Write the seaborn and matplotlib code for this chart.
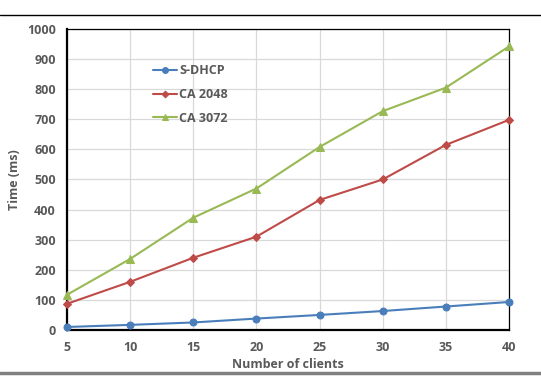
import numpy as np
import pandas as pd
import seaborn as sns
import matplotlib.pyplot as plt
from matplotlib.lines import Line2D

clients = [5, 10, 15, 20, 25, 30, 35, 40]
s_dhcp = [10, 17, 25, 38, 50, 63, 78, 93]
ca_2048 = [87, 160, 240, 310, 432, 500, 615, 698]
ca_3072 = [117, 236, 373, 470, 608, 727, 805, 942]

series = {'S-DHCP': s_dhcp, 'CA 2048': ca_2048, 'CA 3072': ca_3072}
colors = {'S-DHCP': '#4A7EBB', 'CA 2048': '#BE4B48', 'CA 3072': '#98B954'}
markers = {'S-DHCP': 'o', 'CA 2048': 'D', 'CA 3072': '^'}
msizes = {'S-DHCP': 5, 'CA 2048': 4, 'CA 3072': 5.5}

sns.set_style('white')
plt.rcParams['font.family'] = ['Open Sans', 'DejaVu Sans']

dpi = 100
fig = plt.figure(figsize=(541 / dpi, 378 / dpi), dpi=dpi)
ax = fig.add_axes([0.1238, 0.127, 0.817, 0.7963])

for name, vals in series.items():
    sns.lineplot(x=clients, y=vals, ax=ax, color=colors[name], linewidth=1.5,
                 marker=markers[name], markersize=msizes[name],
                 markeredgecolor=colors[name], label=name, clip_on=False, zorder=3)

ax.set_xlim(5, 40)
ax.set_ylim(0, 1000)
ax.set_xticks(clients)
ax.set_yticks(range(0, 1001, 100))
ax.grid(True, color='#d9d9d9', linewidth=0.9)
ax.set_axisbelow(True)

for side in ['top', 'right']:
    ax.spines[side].set_color('black')
    ax.spines[side].set_linewidth(0.9)
for side in ['left', 'bottom']:
    ax.spines[side].set_color('black')
    ax.spines[side].set_linewidth(1.6)

ax.tick_params(axis='both', length=0, labelsize=9, labelcolor='#595959', pad=8)
for lbl in ax.get_xticklabels() + ax.get_yticklabels():
    lbl.set_fontweight('bold')

ax.set_xlabel('Number of clients', fontsize=9, fontweight='bold', color='#595959', labelpad=3)
ax.set_ylabel('Time (ms)', fontsize=9, fontweight='bold', color='#595959', labelpad=4)

leg = ax.legend(loc='upper left', bbox_to_anchor=(0.17, 0.92), frameon=False,
                fontsize=9, handlelength=1.9, handletextpad=0.15, labelspacing=0.85,
                markerscale=0.85)
for t in leg.get_texts():
    t.set_fontweight('bold')
    t.set_color('#595959')

fig.add_artist(Line2D([0, 1], [1 - 15 / 378, 1 - 15 / 378], color='black', linewidth=1.0))
fig.add_artist(Line2D([0, 1], [1 - 373 / 378, 1 - 373 / 378], color='#808080', linewidth=2.5))

fig.savefig('out.png', dpi=dpi)
